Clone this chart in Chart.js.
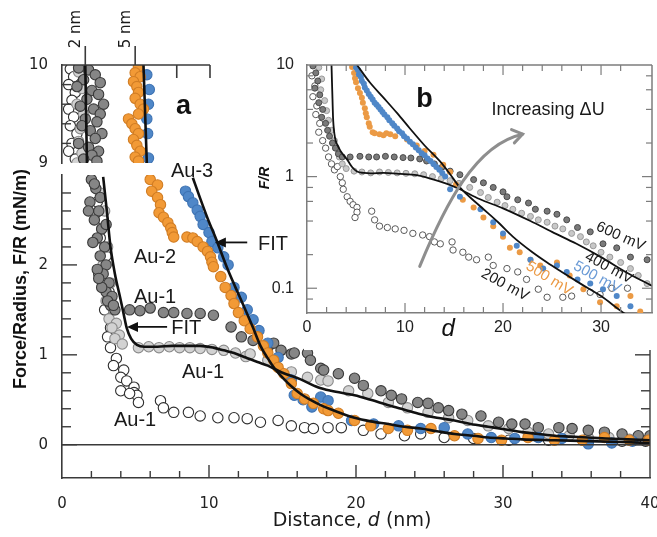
<!DOCTYPE html>
<html>
<head>
<meta charset="utf-8">
<title>Force–distance curves</title>
<script src="https://cdn.jsdelivr.net/npm/chart.js@4.4.1/dist/chart.umd.min.js"></script>
<style>
  html, body { margin: 0; padding: 0; background: #fff; }
  #figure { position: relative; width: 657px; height: 537px; overflow: hidden; }
  #figure canvas { position: absolute; }
</style>
</head>
<body>
<div id="figure">
  <canvas id="mainChart" width="657" height="537" style="left:0;top:0"></canvas>
  <canvas id="topChart" width="230" height="175" style="left:0;top:0"></canvas>
  <canvas id="insetChart" width="407" height="310" style="left:250px;top:40px"></canvas>
</div>
<script>
// ---- panel a, lower part: F/R (mN/m) vs d (nm) ----
const au1_600_d = [2.0,2.3,1.9,2.5,2.2,2.7,2.4,2.9,2.6,3.0,2.8,3.2,3.0,3.4,3.3,3.6,1.8,2.1,2.4,2.7,3.1,3.5,2.2,2.6,3.0,2.5,5.3,
  4.6,6.0,6.9,7.6,8.5,9.4,10.3,11.5,12.2,13.0,14.0,14.4,14.9,15.6,15.8,16.7,16.9,17.6,17.8,18.8,
  19.9,20.5,21.7,22.4,23.1,24.2,24.9,25.6,26.3,27.2,28.5,29.7,30.6,31.5,32.4,33.8,34.7,35.8,36.9,38.1,39.2,40.0];
const au1_600_f = [2.95,2.85,2.7,2.6,2.5,2.4,2.3,2.2,2.1,2.0,1.9,1.8,1.7,1.65,1.55,1.5,2.6,2.25,1.95,1.75,1.6,1.55,2.9,2.75,2.45,1.85,1.49,
  1.50,1.52,1.47,1.47,1.46,1.46,1.44,1.31,1.2,1.16,1.08,1.13,1.05,1.01,1.02,1.02,0.94,0.85,0.83,0.79,
  0.74,0.66,0.6,0.55,0.51,0.47,0.46,0.41,0.38,0.34,0.32,0.25,0.23,0.23,0.19,0.19,0.18,0.16,0.14,0.12,0.1,0.1];

const au1_400_d = [2.6,2.9,2.7,3.1,2.8,3.3,3.0,3.5,3.2,3.7,3.4,3.9,3.6,4.1,
  5.2,5.9,6.6,7.3,8.0,8.7,9.4,10.2,11.0,11.8,12.5,12.8,14.0,15.6,16.7,17.6,
  18.1,19.5,20.8,22.2,23.5,24.9,26.3,27.6,29.0,30.4,31.7,33.1,34.5,35.8,37.2,38.6,39.9];
const au1_400_f = [2.8,2.6,2.4,2.2,2.0,1.8,1.6,1.5,1.4,1.35,1.3,1.22,1.18,1.12,
  1.08,1.09,1.08,1.09,1.08,1.08,1.07,1.06,1.05,1.02,0.98,1.01,0.94,0.81,0.75,0.72,
  0.71,0.6,0.57,0.47,0.41,0.36,0.3,0.27,0.21,0.18,0.14,0.12,0.1,0.08,0.08,0.06,0.06];

const au1_200_d = [2.4,2.8,2.6,3.0,2.5,3.2,2.9,3.3,3.1,
  3.3,3.7,3.5,4.2,4.0,4.4,4.9,4.9,5.1,5.2,4.0,4.6,
  6.7,6.9,7.6,8.6,9.4,10.6,11.7,12.6,13.5,14.7,15.6,16.5,17.1,18.1,19.0,20.5,21.7,23.3,24.4,26.0,
  28.0,30.4,33.1,35.8,38.1,39.7];
const au1_200_f = [2.7,2.5,2.3,2.1,1.9,1.7,1.5,1.3,1.2,
  1.08,0.96,0.88,0.83,0.75,0.71,0.64,0.58,0.55,0.47,0.6,0.57,
  0.49,0.41,0.36,0.36,0.32,0.3,0.3,0.29,0.25,0.27,0.21,0.19,0.18,0.19,0.19,0.16,0.12,0.1,0.12,0.08,
  0.07,0.05,0.05,0.03,0.04,0.04];

const au2_d = [6.0,6.5,6.1,6.5,6.7,6.6,6.9,7.2,7.4,7.5,7.6,
  8.5,8.9,9.2,9.6,9.9,10.1,10.2,10.3,10.8,11.1,11.5,11.7,12.0,12.4,12.8,13.3,13.7,14.0,14.4,14.7,
  15.1,15.6,16.0,16.5,17.1,17.8,18.1,18.8,19.9,21.0,22.2,23.5,25.1,26.7,28.3,29.9,31.7,33.5,35.4,36.9,38.6,39.9];
const au2_f = [2.95,2.89,2.82,2.75,2.67,2.58,2.53,2.47,2.41,2.36,2.31,
  2.31,2.3,2.26,2.2,2.15,2.09,2.03,1.98,1.87,1.75,1.66,1.57,1.47,1.38,1.29,1.2,1.1,1.02,0.94,0.86,
  0.79,0.68,0.57,0.51,0.46,0.4,0.38,0.35,0.27,0.21,0.18,0.16,0.18,0.1,0.07,0.05,0.08,0.05,0.05,0.08,0.05,0.05];

const au3_d = [8.4,8.6,8.9,9.2,9.4,9.6,10.0,10.2,10.6,11.0,11.3,11.7,12.2,12.6,13.0,13.4,14.0,14.7,15.6,15.8,16.4,17.0,
  17.6,18.1,19.7,21.2,22.9,24.4,26.0,27.6,29.2,30.8,32.4,34.0,35.8,37.4,38.8];
const au3_f = [2.82,2.76,2.69,2.61,2.54,2.45,2.36,2.26,2.19,2.09,2.0,1.75,1.64,1.5,1.39,1.27,1.13,0.97,0.72,0.55,0.5,0.42,
  0.53,0.49,0.27,0.23,0.21,0.18,0.19,0.12,0.08,0.07,0.08,0.07,0.01,0.02,0.04];

const fitA_d = [2.8,3.05,3.3,3.6,3.95,4.2,4.4,4.7,5.1,5.6,6.5,7.5,8.5,9.4,10.3,11.0,11.7,12.5,13.3,14.0,
  15.0,16.2,17.4,18.3,19.9,21.0,22.2,23.3,24.4,25.5,26.7,27.8,29.0,30.2,31.3,32.4,33.5,34.6,35.8,37.0,38.5,40.0];
const fitA_f = [2.98,2.6,2.2,1.9,1.64,1.45,1.3,1.18,1.11,1.09,1.09,1.1,1.1,1.1,1.08,1.05,1.02,0.97,0.92,0.88,
  0.8,0.73,0.64,0.6,0.55,0.5,0.44,0.39,0.34,0.3,0.27,0.23,0.2,0.17,0.14,0.12,0.1,0.09,0.08,0.07,0.06,0.05];

const fitB_d = [8.9,9.4,9.9,10.5,11.2,11.8,12.4,13.0,13.5,14.0,14.5,15.1,15.6,16.2,17.0,17.6,18.5,19.9,21.0,22.2,
  23.3,24.4,25.5,26.7,28.0,29.0,30.2,31.3,33.5,35.8,38.0,40.0];
const fitB_f = [2.97,2.74,2.52,2.28,1.98,1.75,1.53,1.3,1.1,0.96,0.84,0.73,0.65,0.57,0.49,0.44,0.38,0.3,0.26,0.23,
  0.2,0.18,0.15,0.12,0.1,0.08,0.07,0.06,0.05,0.04,0.03,0.02];

// ---- panel a, upper strip (F/R 9–10) ----
const top600_d = [1.6,2.2,2.6,1.9,2.9,1.5,2.4,2.8,2.1,3.1,1.7,2.5,2.9,2.0,2.7,1.8,2.3,3.0,2.6,1.6,2.2,2.8,2.4,1.9,2.7];
const top600_f = [9.97,9.95,9.9,9.85,9.82,9.78,9.74,9.7,9.65,9.6,9.58,9.55,9.5,9.45,9.42,9.38,9.33,9.3,9.25,9.2,9.16,9.12,9.08,9.04,9.02];
const top400_d = [1.6,1.8,1.5,1.9,1.7,1.6,1.8,1.5];
const top400_f = [9.93,9.76,9.6,9.5,9.35,9.22,9.1,9.0];
const top200_d = [1.1,1.3,1.0,1.4,1.2,1.0,1.3,1.1,1.5,1.2,1.0,1.4];
const top200_f = [9.96,9.88,9.8,9.72,9.64,9.55,9.47,9.38,9.3,9.2,9.12,9.04];
const topAu2_d = [5.2,5.0,5.3,4.9,5.1,5.2,5.0,5.3,5.5,5.2,4.6,4.8,5.0,5.2,4.9,5.1,5.3,5.0,5.2];
const topAu2_f = [9.98,9.92,9.88,9.83,9.78,9.72,9.66,9.6,9.55,9.5,9.45,9.4,9.35,9.3,9.24,9.18,9.12,9.06,9.02];
const topAu3_d = [5.7,5.85,5.8,5.7,5.75,5.8];
const topAu3_f = [9.9,9.75,9.6,9.45,9.3,9.05];
const topFitA_d = [2.0, 2.1];
const topFitA_f = [10, 9];
const topFitB_d = [5.5, 5.7];
const topFitB_f = [10, 9];
const topDTicks = [2, 5, 7.5, 9.5];

// ---- panel b: same curves on a log force axis ----
const in200_d = [0.5,0.8,0.6,1.0,0.9,1.3,1.2,1.6,1.9,2.2,2.5,2.8,3.1,3.4,3.6,3.7,4.1,4.4,4.7,5.1,
  5.1,4.9,6.6,6.9,7.4,8.2,9.0,9.9,10.8,11.8,12.5,13.0,13.6,14.8,14.9,15.9,16.5,17.3,18.5,19.0,
  20.4,21.5,22.4,23.6,24.5,26.1,27.0,28.9,29.9,31.1,32.7];
const in200_f = [8,6.5,5.2,4.3,3.6,3.0,2.5,2.1,1.8,1.5,1.3,1.15,1.23,1.0,0.88,0.77,0.66,0.6,0.56,0.53,
  0.48,0.43,0.49,0.41,0.36,0.35,0.34,0.33,0.31,0.30,0.29,0.26,0.25,0.26,0.22,0.21,0.19,0.18,0.19,0.16,
  0.15,0.14,0.12,0.098,0.083,0.083,0.085,0.092,0.088,0.10,0.1];

const in600_d = [0.6,0.9,1.1,0.8,1.3,1.2,1.6,1.5,1.9,2.1,2.3,2.6,2.9,3.2,3.6,
  4.4,5.4,6.3,7.1,8.0,8.9,9.8,10.6,11.5,12.2,13.0,13.8,14.6,
  15.6,17.0,18.0,19.0,20.0,20.4,21.5,22.6,23.3,24.5,25.5,26.5,27.6,28.9,30.2,31.6,33.0,34.7];
const in600_f = [9.8,8.5,7.2,6.2,5.4,4.6,4.0,3.4,3.0,2.6,2.3,2.0,1.8,1.6,1.5,
  1.5,1.52,1.5,1.5,1.52,1.5,1.48,1.47,1.44,1.38,1.3,1.22,1.12,
  1.04,0.94,0.88,0.8,0.73,0.66,0.62,0.58,0.51,0.49,0.46,0.41,0.35,0.32,0.25,0.23,0.19,0.18];

const in400_d = [1.2,1.5,1.4,1.8,2.0,2.2,2.5,2.8,3.0,3.3,3.6,4.0,
  4.8,5.6,6.5,7.4,8.3,9.2,10.1,11.0,11.9,12.8,13.7,14.6,15.5,16.6,17.7,18.5,19.4,20.2,21.0,21.9,
  22.8,23.6,24.5,25.3,26.1,27.0,27.9,28.5,29.2,30.0,30.9,32.0,33.0,33.8,34.7];
const in400_f = [9.5,7.5,6.0,4.8,3.9,3.2,2.6,2.1,1.8,1.5,1.3,1.18,
  1.12,1.1,1.08,1.1,1.09,1.08,1.07,1.06,1.04,1.0,0.96,0.92,0.87,0.8,0.72,0.65,0.59,0.55,0.51,0.47,
  0.44,0.41,0.39,0.36,0.34,0.31,0.29,0.26,0.24,0.21,0.19,0.17,0.15,0.13,0.11];

const inAu2_d = [4.6,4.9,5.2,5.6,5.9,6.1,6.4,6.7,7.4,8.5,9.0,4.8,5.0,5.4,5.7,6.0,6.3,6.9,7.8,8.1,
  10.2,11.2,12.0,12.9,13.9,14.6,15.2,15.9,17.0,18.0,19.0,20.0,20.7,21.7,22.8,23.8,25.5,26.8,28.2,29.9,
  31.6,33.0,34.0];
const inAu2_f = [9.6,7.6,6.2,5.1,4.1,3.4,2.8,2.5,2.4,2.4,2.3,8.5,7.0,5.6,4.6,3.7,3.0,2.45,2.35,2.45,
  2.15,1.9,1.7,1.57,1.28,1.1,0.85,0.62,0.53,0.43,0.36,0.29,0.23,0.21,0.18,0.16,0.17,0.13,0.098,0.075,
  0.069,0.085,0.062];

const inAu3_d = [5.0,5.3,5.6,5.9,6.3,6.7,7.1,7.5,7.9,8.4,8.9,9.4,9.9,10.5,11.1,11.7,12.3,12.9,13.5,14.1,
  14.6,15.6,17.7,19.0,20.0,21.4,22.8,24.1,25.5,26.5,27.6,28.9,30.2,31.6,33.0,
  5.2,5.5,5.8,6.1,6.5,6.9,7.3,7.7,8.2,8.7,9.2,9.7,10.2,10.8,11.4,12.0,12.6,13.2,13.8];
const inAu3_f = [9.5,8.2,7.2,6.3,5.5,4.9,4.4,4.0,3.6,3.2,2.85,2.55,2.3,2.05,1.82,1.62,1.45,1.3,1.15,1.0,
  0.77,0.66,0.51,0.39,0.31,0.24,0.18,0.15,0.16,0.14,0.12,0.11,0.098,0.085,0.069,
  9.0,7.8,6.8,5.9,5.2,4.6,4.2,3.8,3.4,3.0,2.7,2.45,2.2,1.95,1.72,1.55,1.38,1.22,1.08];

const inFitA_d = [2.5,2.55,2.6,2.65,2.8,3.2,3.7,4.1,4.6,5.1,5.8,6.5,7.8,9.5,11.2,12.6,14.3,15.6,17.6,20.0,
  22.8,25.0,27.5,30.0,32.5,35.2];
const inFitA_f = [10,7,5,3.5,2.4,1.85,1.57,1.42,1.22,1.11,1.08,1.07,1.08,1.06,1.03,0.96,0.86,0.77,0.63,0.52,
  0.40,0.32,0.25,0.19,0.14,0.105];
const inFitB_d = [5.1,6.4,7.8,9.2,10.5,12.0,13.6,14.6,15.6,17.7,19.5,21.0,23.0,24.5,26.0,27.9,30.0,32.2,33.0];
const inFitB_f = [10,7,5.1,3.7,2.7,1.9,1.36,1.05,0.8,0.54,0.39,0.29,0.21,0.17,0.14,0.11,0.085,0.061,0.055];
const inFTicks = [0.06,0.08,0.1,0.2,0.4,0.6,0.8,1,2,4,6,8,10];

const SANS = '"Liberation Sans", Arial, sans-serif';
const VERD = '"DejaVu Sans", Verdana, sans-serif';

const isWhole = v => Math.abs(v - Math.round(v)) < 1e-6;
const pts = (xs, ys) => xs.map((v, i) => ({ x: v, y: ys[i] }));

// keep the plot box exactly where the layout padding puts it
const fixX = h => s => { s.height = h; s.paddingLeft = 0; s.paddingRight = 0; };
const fixY = w => s => { s.width = w; s.paddingTop = 0; s.paddingBottom = 0; };

function dots(xs, ys, fill, edge, r, w) {
  return {
    data: pts(xs, ys), showLine: false, clip: 0,
    backgroundColor: fill, borderColor: edge,
    pointRadius: r, pointHoverRadius: r,
    borderWidth: w === undefined ? 1.1 : w, pointBorderWidth: w === undefined ? 1.1 : w
  };
}
function fitLine(xs, ys, w) {
  return {
    data: pts(xs, ys), showLine: true, clip: 0, fill: false,
    borderColor: '#111', borderWidth: w, pointRadius: 0,
    cubicInterpolationMode: 'monotone'
  };
}
function baseOptions(padding) {
  return {
    responsive: false, animation: false, events: [],
    layout: { padding },
    plugins: { legend: { display: false }, tooltip: { enabled: false } }
  };
}
function seg(ctx, x1, y1, x2, y2) {
  ctx.beginPath(); ctx.moveTo(x1, y1); ctx.lineTo(x2, y2); ctx.stroke();
}
function text(ctx, str, px, py, font, color, rot) {
  ctx.save();
  ctx.translate(px, py);
  if (rot) ctx.rotate(rot);
  ctx.font = font; ctx.fillStyle = color || '#1a1a1a';
  ctx.textAlign = 'center'; ctx.textBaseline = 'middle';
  ctx.fillText(str, 0, 0);
  ctx.restore();
}
// arrow pointing left, head at x2
function leftArrow(ctx, x1, x2, py) {
  ctx.save();
  ctx.strokeStyle = '#111'; ctx.fillStyle = '#111'; ctx.lineWidth = 1.8;
  seg(ctx, x1, py, x2 + 8, py);
  ctx.beginPath();
  ctx.moveTo(x2, py); ctx.lineTo(x2 + 11, py - 5); ctx.lineTo(x2 + 11, py + 5); ctx.closePath();
  ctx.fill();
  ctx.restore();
}

// frame, inward ticks and annotations of the lower panel
const mainDecor = {
  id: 'mainDecor',
  afterDraw(chart) {
    const { ctx, chartArea: a, scales: { x, y } } = chart;
    ctx.save();
    ctx.strokeStyle = '#3a3a3a';
    ctx.lineWidth = 1.4;
    const y0 = y.getPixelForValue(0);
    seg(ctx, a.left, y0, a.right, y0);
    seg(ctx, a.right, a.top, a.right, a.bottom);
    y.ticks.forEach(t => {
      const py = y.getPixelForValue(t.value);
      if (py > a.bottom - 2 || py < a.top + 2) return;
      const len = isWhole(t.value) ? 15 : 9;
      seg(ctx, a.left, py, a.left + len, py);
      seg(ctx, a.right, py, a.right - len, py);
    });
    x.ticks.forEach(t => {
      const px = x.getPixelForValue(t.value);
      if (px < a.left + 2 || px > a.right - 2) return;
      const len = t.value % 10 === 0 ? 13 : 7;
      seg(ctx, px, a.bottom, px, a.bottom - len);
    });

    const lab = '20px ' + SANS;
    text(ctx, 'Au-3', x.getPixelForValue(8.85), y.getPixelForValue(3.04), lab);
    text(ctx, 'Au-2', x.getPixelForValue(6.33), y.getPixelForValue(2.08), lab);
    text(ctx, 'Au-1', x.getPixelForValue(6.33), y.getPixelForValue(1.64), lab);
    text(ctx, 'Au-1', x.getPixelForValue(9.6), y.getPixelForValue(0.80), lab);
    text(ctx, 'Au-1', x.getPixelForValue(4.97), y.getPixelForValue(0.27), lab);
    const fit = '20px ' + SANS;
    text(ctx, 'FIT', x.getPixelForValue(14.35), y.getPixelForValue(2.23), fit);
    leftArrow(ctx, x.getPixelForValue(12.6), x.getPixelForValue(10.4), y.getPixelForValue(2.25));
    text(ctx, 'FIT', x.getPixelForValue(8.45), y.getPixelForValue(1.29), fit);
    leftArrow(ctx, x.getPixelForValue(7.15), x.getPixelForValue(4.42), y.getPixelForValue(1.31));

    // axis titles
    text(ctx, 'Force/Radius, F/R (mN/m)', 21, 279, 'bold 18px ' + SANS, '#111', -Math.PI / 2);
    const cx = (a.left + a.right) / 2 - 4, ty = 521;
    ctx.font = '19px ' + VERD;
    const w1 = ctx.measureText('Distance, ').width, w3 = ctx.measureText(' (nm)').width;
    ctx.font = 'italic 19px ' + VERD;
    const w2 = ctx.measureText('d').width;
    let sx = cx - (w1 + w2 + w3) / 2;
    ctx.fillStyle = '#1a1a1a'; ctx.textAlign = 'left'; ctx.textBaseline = 'middle';
    ctx.font = '19px ' + VERD; ctx.fillText('Distance, ', sx, ty); sx += w1;
    ctx.font = 'italic 19px ' + VERD; ctx.fillText('d', sx, ty); sx += w2;
    ctx.font = '19px ' + VERD; ctx.fillText(' (nm)', sx, ty);
    ctx.restore();
  }
};

new Chart(document.getElementById('mainChart'), {
  type: 'scatter',
  data: {
    datasets: [
      fitLine(fitA_d, fitA_f, 2.6),
      fitLine(fitB_d, fitB_f, 2.6),
      dots(au2_d, au2_f, '#f29a36', '#d17d24', 5.2),
      dots(au3_d, au3_f, '#4f87c8', '#3f74b4', 5.2),
      dots(au1_600_d, au1_600_f, '#868686', '#3a3a3a', 5.2),
      dots(au1_400_d, au1_400_f, '#d2d2d2', '#8a8a8a', 5.2),
      dots(au1_200_d, au1_200_f, '#ffffff', '#2e2e2e', 5.2)
    ]
  },
  options: Object.assign(baseOptions({ top: 175, right: 7, left: 0, bottom: 0 }), {
    scales: {
      x: {
        type: 'linear', min: 0, max: 40,
        afterFit: fixX(59),
        grid: { display: false, drawTicks: false },
        border: { display: true, color: '#3a3a3a', width: 1.6 },
        ticks: {
          stepSize: 2, autoSkip: false, maxRotation: 0, padding: 17, color: '#222',
          font: { family: VERD, size: 15 },
          callback: v => (v % 10 === 0 ? String(v) : '')
        }
      },
      y: {
        type: 'linear', min: -0.37, max: 3,
        afterFit: fixY(62),
        grid: { display: false, drawTicks: false },
        border: { display: true, color: '#3a3a3a', width: 1.6 },
        ticks: {
          stepSize: 0.2, autoSkip: false, padding: 14, color: '#222',
          font: { family: VERD, size: 15 },
          callback: v => (isWhole(v) && v > -0.1 && v < 2.5 ? String(Math.round(v)) : '')
        }
      }
    }
  }),
  plugins: [mainDecor]
});

// upper strip: top axis with the 2 nm / 5 nm marks
const topDecor = {
  id: 'topDecor',
  afterDraw(chart) {
    const { ctx, chartArea: a, scales: { x, y } } = chart;
    ctx.save();
    ctx.strokeStyle = '#3a3a3a';
    ctx.lineWidth = 1.6;
    seg(ctx, a.left, a.top, a.right, a.top);
    topDTicks.forEach(v => {
      const px = x.getPixelForValue(v);
      if (v === 2 || v === 5) {
        seg(ctx, px, a.top, px, a.top - 19);
        text(ctx, v + ' nm', px - 9, a.top - 36, '15px ' + VERD, '#1a1a1a', -Math.PI / 2);
      } else {
        seg(ctx, px, a.top, px, a.top + 13);
      }
    });
    ctx.lineWidth = 1.4;
    y.ticks.forEach(t => {
      if (isWhole(t.value)) return;
      const py = y.getPixelForValue(t.value);
      seg(ctx, a.left, py, a.left + 9, py);
    });
    text(ctx, 'a', x.getPixelForValue(7.9), y.getPixelForValue(9.58), 'bold 27px ' + SANS, '#111');
    ctx.restore();
  }
};

new Chart(document.getElementById('topChart'), {
  type: 'scatter',
  data: {
    datasets: [
      fitLine(topFitA_d, topFitA_f, 2.6),
      fitLine(topFitB_d, topFitB_f, 2.6),
      dots(topAu2_d, topAu2_f, '#f29a36', '#d17d24', 5.2),
      dots(topAu3_d, topAu3_f, '#4f87c8', '#3f74b4', 5.2),
      dots(top600_d, top600_f, '#868686', '#3a3a3a', 5.2),
      dots(top400_d, top400_f, '#d2d2d2', '#8a8a8a', 5.2),
      dots(top200_d, top200_f, '#ffffff', '#2e2e2e', 5.2)
    ]
  },
  options: Object.assign(baseOptions({ top: 65, right: 20, left: 0, bottom: 12 }), {
    scales: {
      x: { type: 'linear', min: 0.6, max: 9.5, display: false, afterFit: fixX(0) },
      y: {
        type: 'linear', min: 9, max: 10,
        afterFit: fixY(62),
        grid: { display: false, drawTicks: false },
        border: { display: true, color: '#3a3a3a', width: 1.6 },
        ticks: {
          stepSize: 0.2, autoSkip: false, padding: 14, color: '#222',
          font: { family: VERD, size: 15 },
          callback: v => (isWhole(v) ? String(Math.round(v)) : '')
        }
      }
    }
  }),
  plugins: [topDecor]
});

// inset b: white plot box, frame, ticks, voltage labels and the ΔU arrow
const insetDecor = {
  id: 'insetDecor',
  beforeDraw(chart) {
    const { ctx, chartArea: a, width, height } = chart;
    ctx.save();
    ctx.fillStyle = '#fff';
    ctx.fillRect(a.left - 3, 0, width - a.left + 3, height);
    ctx.restore();
  },
  afterDraw(chart) {
    const { ctx, chartArea: a, scales: { x, y } } = chart;
    const P = (d, f) => [x.getPixelForValue(d), y.getPixelForValue(f)];
    ctx.save();
    ctx.strokeStyle = '#7d7d7d';
    ctx.lineWidth = 1.5;
    seg(ctx, a.left, a.top, a.right, a.top);
    seg(ctx, a.right, a.top, a.right, a.bottom);
    ctx.lineWidth = 1.2;
    y.ticks.forEach(t => {
      const py = y.getPixelForValue(t.value);
      if (py > a.bottom - 2 || py < a.top + 2) return;
      const len = isWhole(Math.log10(t.value)) ? 10 : 6;
      seg(ctx, a.left, py, a.left + len, py);
      seg(ctx, a.right, py, a.right - len, py);
    });
    x.ticks.forEach(t => {
      const px = x.getPixelForValue(t.value);
      if (px < a.left + 2 || px > a.right - 2) return;
      const len = t.value % 10 === 0 ? 10 : 6;
      seg(ctx, px, a.bottom, px, a.bottom - len);
      seg(ctx, px, a.top, px, a.top + len);
    });

    // increasing ΔU arrow
    const [sx, sy] = P(11.5, 0.157), [c1x, c1y] = P(14.1, 0.56);
    const [c2x, c2y] = P(17.2, 1.95), [ex, ey] = P(22.0, 2.4);
    ctx.strokeStyle = '#8e8e8e'; ctx.lineWidth = 3; ctx.lineCap = 'round';
    ctx.beginPath(); ctx.moveTo(sx, sy); ctx.bezierCurveTo(c1x, c1y, c2x, c2y, ex, ey); ctx.stroke();
    const ang = Math.atan2(ey - c2y, ex - c2x);
    ctx.beginPath();
    ctx.moveTo(ex - 12 * Math.cos(ang - 0.6), ey - 12 * Math.sin(ang - 0.6));
    ctx.lineTo(ex, ey);
    ctx.lineTo(ex - 12 * Math.cos(ang + 0.6), ey - 12 * Math.sin(ang + 0.6));
    ctx.stroke();

    text(ctx, 'b', ...P(12.0, 4.87), 'bold 27px ' + SANS, '#111');
    text(ctx, 'Increasing \u0394U', ...P(24.6, 3.96), '18px ' + SANS, '#1a1a1a');
    const mv = '15px ' + SANS;
    text(ctx, '600 mV', ...P(32.0, 0.29), mv, '#1a1a1a', 0.42);
    text(ctx, '400 mV', ...P(30.8, 0.152), mv, '#1a1a1a', 0.49);
    text(ctx, '500 mV', ...P(29.6, 0.125), mv, '#6b9bd6', 0.5);
    text(ctx, '500 mV', ...P(24.7, 0.122), mv, '#eb9a45', 0.55);
    text(ctx, '200 mV', ...P(20.2, 0.107), mv, '#1a1a1a', 0.5);

    // axis titles
    text(ctx, 'F/R', 15, 138, 'italic bold 14px ' + SANS, '#111', -Math.PI / 2);
    text(ctx, 'd', x.getPixelForValue(14.4), a.bottom + 16, 'italic 24px ' + SANS, '#111');
    ctx.restore();
  }
};

new Chart(document.getElementById('insetChart'), {
  type: 'scatter',
  data: {
    datasets: [
      fitLine(inFitA_d, inFitA_f, 1.8),
      fitLine(inFitB_d, inFitB_f, 1.8),
      dots(inAu3_d, inAu3_f, '#4f87c8', '#4f87c8', 3, 0),
      dots(inAu2_d, inAu2_f, '#eb9a45', '#eb9a45', 3, 0),
      dots(in600_d, in600_f, '#7a7a7a', '#4a4a4a', 3, 1),
      dots(in400_d, in400_f, '#c8c8c8', '#9a9a9a', 3, 1),
      dots(in200_d, in200_f, '#ffffff', '#5a5a5a', 3.2, 1)
    ]
  },
  options: Object.assign(baseOptions({ top: 25, right: 5, left: 0, bottom: 0 }), {
    scales: {
      x: {
        type: 'linear', min: 0, max: 35.2,
        afterFit: fixX(37),
        grid: { display: false, drawTicks: false },
        border: { display: true, color: '#7d7d7d', width: 1.5 },
        ticks: {
          stepSize: 2, autoSkip: false, maxRotation: 0, padding: 5, color: '#222',
          font: { family: SANS, size: 16 },
          callback: v => (v % 10 === 0 ? String(v) : '')
        }
      },
      y: {
        type: 'logarithmic', min: 0.06, max: 10,
        afterFit: fixY(57),
        afterBuildTicks: s => { s.ticks = inFTicks.map(v => ({ value: v })); },
        grid: { display: false, drawTicks: false },
        border: { display: true, color: '#7d7d7d', width: 1.5 },
        ticks: {
          autoSkip: false, padding: 13, color: '#222',
          font: { family: SANS, size: 16 },
          callback: v => (isWhole(Math.log10(v)) ? String(v) : '')
        }
      }
    }
  }),
  plugins: [insetDecor]
});
</script>
</body>
</html>
